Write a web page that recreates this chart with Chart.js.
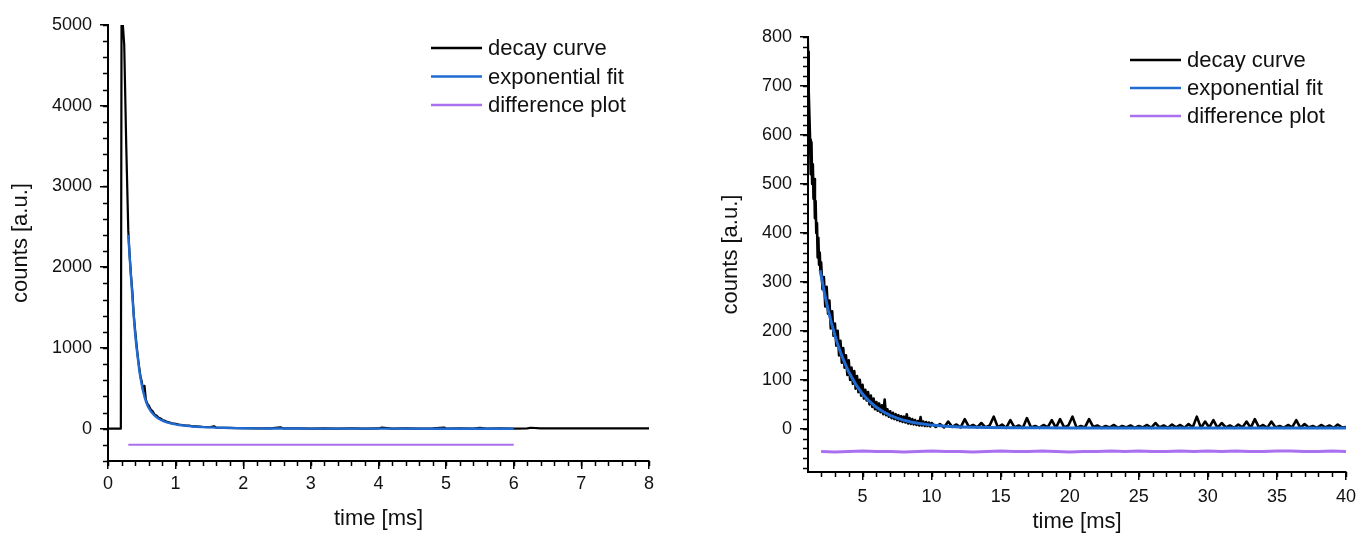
<!DOCTYPE html>
<html><head><meta charset="utf-8">
<script src="https://cdn.jsdelivr.net/npm/chart.js@4.4.1/dist/chart.umd.min.js"></script>
<style>
html,body{margin:0;padding:0;background:#fff;}
#wrap{position:relative;width:1362px;height:543px;overflow:hidden;background:#fff;}
#c1{position:absolute;left:0;top:0;}
#c2{position:absolute;left:680px;top:0;}
</style></head><body>
<div id="wrap"><canvas id="c1" width="680" height="543"></canvas><canvas id="c2" width="682" height="543"></canvas></div>
<script>
const seriesLabels = ['decay curve', 'exponential fit', 'difference plot'];
const xTitle = 'time [ms]';
const yTitle = 'counts [a.u.]';

// ---------- LEFT PANEL ----------
const leftDecayT = [0, 0.19, 0.2, 0.22, 0.24, 0.27, 0.3, 0.32, 0.34, 0.36, 0.38, 0.4, 0.42, 0.44, 0.46, 0.48, 0.5, 0.52, 0.54, 0.56, 0.58, 0.6, 0.63, 0.66, 0.69, 0.72, 0.75, 0.78, 0.81, 0.84, 0.87, 0.9, 0.95, 1.0, 1.05, 1.1, 1.15, 1.2, 1.25, 1.3, 1.4, 1.5, 1.57, 1.6, 1.7, 1.8, 1.9, 2.0, 2.2, 2.4, 2.55, 2.6, 2.8, 3.0, 3.2, 3.4, 3.6, 3.8, 4.0, 4.05, 4.2, 4.4, 4.6, 4.8, 4.97, 5.0, 5.2, 5.4, 5.5, 5.6, 5.8, 6.0, 6.2, 6.25, 6.4, 6.6, 6.8, 7.0, 7.2, 7.4, 7.6, 7.8, 8.0];
const leftDecayY = [0, 0, 5000, 5000, 4750, 3500, 2450, 2150, 1900, 1700, 1420, 1230, 1060, 900, 770, 650, 580, 470, 530, 360, 315, 290, 240, 215, 175, 160, 135, 125, 105, 100, 85, 80, 68, 60, 52, 45, 40, 38, 30, 28, 22, 18, 30, 14, 12, 10, 8, 7, 5, 4, 18, 3, 3, 2, 4, 2, 3, 2, 3, 15, 2, 3, 2, 3, 14, 2, 3, 2, 12, 2, 3, 2, 4, 12, 3, 5, 3, 4, 3, 5, 3, 4, 3];
const leftFitT = [0.3, 0.32, 0.34, 0.36, 0.38, 0.4, 0.42, 0.44, 0.46, 0.48, 0.5, 0.52, 0.54, 0.56, 0.58, 0.6, 0.63, 0.66, 0.69, 0.72, 0.75, 0.78, 0.81, 0.84, 0.87, 0.9, 0.95, 1.0, 1.05, 1.1, 1.15, 1.2, 1.25, 1.3, 1.4, 1.5, 1.6, 1.7, 1.8, 1.9, 2.0, 2.2, 2.4, 2.6, 2.8, 3.0, 3.5, 4.0, 5.0, 6.0];
const leftFitY = [2400, 2130, 1880, 1640, 1400, 1190, 1020, 880, 740, 630, 540, 460, 395, 340, 295, 260, 220, 188, 162, 142, 124, 110, 98, 88, 79, 72, 61, 53, 46, 41, 36, 32, 28, 25, 20, 16, 13, 11, 9, 7, 6, 4, 3, 2, 2, 1, 1, 1, 0, 0];
const leftDiffT = [0.3, 1, 2, 3, 4, 5, 6];
const leftDiffY = [-200, -200, -199, -200, -200, -199, -200];
const leftXTicks = [0, 1, 2, 3, 4, 5, 6, 7, 8];
const leftYTicks = [0, 1000, 2000, 3000, 4000, 5000];

// ---------- RIGHT PANEL ----------
const rightDecayT = [1.0, 1.05, 1.1, 1.15, 1.2, 1.25, 1.3, 1.35, 1.4, 1.45, 1.5, 1.55, 1.6, 1.65, 1.7, 1.75, 1.8, 1.85, 1.9, 1.95,
  2.0, 2.1, 2.2, 2.3, 2.4, 2.5, 2.6, 2.7, 2.8, 2.9, 3.0, 3.1, 3.2, 3.3, 3.4, 3.5, 3.6, 3.7, 3.8, 3.9,
  4.0, 4.1, 4.2, 4.3, 4.4, 4.5, 4.6, 4.7, 4.8, 4.9, 5.0, 5.1, 5.2, 5.3, 5.4, 5.5, 5.6, 5.7, 5.8, 5.9,
  6.0, 6.1, 6.2, 6.3, 6.4, 6.5, 6.6, 6.7, 6.8, 6.9, 7.0, 7.1, 7.2, 7.3, 7.4, 7.5, 7.6, 7.7, 7.8, 7.9,
  8.0, 8.1, 8.2, 8.3, 8.4, 8.5, 8.6, 8.7, 8.8, 8.9, 9.0, 9.1, 9.2, 9.3, 9.4, 9.5, 9.6, 9.7, 9.8, 9.9,
  10, 10.3, 10.6, 10.9, 11.2, 11.5, 11.8, 12.1, 12.4, 12.7, 13, 13.3, 13.6, 13.9, 14.2, 14.5, 14.8, 15.1, 15.4, 15.7,
  16, 16.3, 16.6, 16.9, 17.2, 17.5, 17.8, 18.1, 18.4, 18.7, 19, 19.3, 19.6, 19.9, 20.2, 20.5, 20.8, 21.1, 21.4, 21.7,
  22, 22.3, 22.6, 22.9, 23.2, 23.5, 23.8, 24.1, 24.4, 24.7, 25, 25.3, 25.6, 25.9, 26.2, 26.5, 26.8, 27.1, 27.4, 27.7,
  28, 28.3, 28.6, 28.9, 29.2, 29.5, 29.8, 30.1, 30.4, 30.7, 31, 31.3, 31.6, 31.9, 32.2, 32.5, 32.8, 33.1, 33.4, 33.7,
  34, 34.3, 34.6, 34.9, 35.2, 35.5, 35.8, 36.1, 36.4, 36.7, 37, 37.3, 37.6, 37.9, 38.2, 38.5, 38.8, 39.1, 39.4, 39.7, 40];
const rightDecayY = [840, 770, 690, 640, 590, 520, 585, 500, 540, 470, 510, 430, 465, 400, 420, 350, 390, 335, 360, 320,
  340, 285, 310, 250, 290, 235, 262, 205, 240, 190, 215, 170, 200, 150, 180, 135, 165, 125, 150, 110,
  140, 100, 125, 92, 118, 82, 108, 75, 100, 68, 90, 62, 80, 58, 75, 50, 68, 45, 62, 40,
  55, 37, 52, 34, 48, 30, 60, 28, 40, 25, 36, 22, 33, 20, 30, 18, 28, 16, 26, 14,
  25, 13, 30, 11, 22, 10, 20, 9, 18, 8, 16, 7, 24, 7, 15, 6, 14, 6, 13, 5,
  12, 4, 10, 3, 15, 4, 9, 3, 20, 4, 8, 3, 12, 3, 7, 25, 3, 9, 2, 18,
  3, 7, 2, 22, 3, 6, 2, 8, 3, 18, 2, 20, 3, 7, 25, 2, 6, 3, 20, 4,
  7, 2, 6, 3, 8, 2, 6, 3, 7, 2, 6, 3, 8, 2, 12, 3, 7, 2, 9, 3,
  8, 2, 10, 3, 25, 2, 15, 3, 18, 2, 12, 3, 7, 2, 9, 3, 15, 2, 20, 3,
  8, 2, 15, 3, 6, 2, 8, 3, 18, 2, 10, 3, 6, 2, 8, 3, 7, 2, 9, 3, 4];
const rightFitT = [1.93, 2, 2.25, 2.5, 2.75, 3, 3.25, 3.5, 3.75, 4, 4.5, 5, 5.5, 6, 6.5, 7, 7.5, 8, 8.5, 9, 10, 11, 12, 13, 14, 16, 18, 20, 25, 30, 35, 40];
const rightFitY = [324, 313, 276, 244, 216, 191, 168, 149, 132, 116, 91, 71, 56, 44, 35, 27.5, 22, 17.5, 14, 11.4, 7.7, 5.5, 4.1, 3.3, 2.8, 2.3, 2.1, 2, 2, 2, 2, 2];
const rightDiffT = [2, 3, 4, 5, 6, 7, 8, 9, 10, 11, 12, 13, 14, 15, 16, 17, 18, 19, 20, 21, 22, 23, 24, 25, 26, 27, 28, 29, 30, 31, 32, 33, 34, 35, 36, 37, 38, 39, 40];
const rightDiffY = [-46, -47, -46, -45, -46, -46, -47, -46, -45, -46, -46, -47, -46, -45, -46, -46, -45, -46, -47, -46, -46, -45, -46, -45, -46, -46, -45, -46, -45, -46, -45, -46, -46, -45, -45, -46, -46, -45, -46];
const rightXTicks = [5, 10, 15, 20, 25, 30, 35, 40];
const rightYTicks = [0, 100, 200, 300, 400, 500, 600, 700, 800];

// ---------- styling ----------
const COLORS = ['#000000', '#1f6bd1', '#a970f0'];
const FONT = '"Liberation Sans", Arial, sans-serif';
const TXT = '#111111';

function pts(ts, ys) { return ts.map((t, i) => ({x: t, y: ys[i]})); }

function minorPlugin(id, m) {
  return {
    id: id,
    afterDraw(chart) {
      const ctx = chart.ctx, xs = chart.scales.x, ys = chart.scales.y, a = chart.chartArea;
      ctx.save();
      ctx.strokeStyle = '#000'; ctx.lineWidth = 1.5;
      ctx.beginPath();
      const nx = Math.round((m.xEnd - m.xStart) / m.xStep);
      for (let i = 0; i <= nx; i++) {
        const v = m.xStart + i * m.xStep;
        const px = Math.round(xs.getPixelForValue(v)) + 0.5;
        ctx.moveTo(px, a.bottom); ctx.lineTo(px, a.bottom + m.len);
      }
      const ny = Math.round((m.yEnd - m.yStart) / m.yStep);
      for (let i = 0; i <= ny; i++) {
        const v = m.yStart + i * m.yStep;
        const py = Math.round(ys.getPixelForValue(v)) + 0.5;
        ctx.moveTo(a.left - m.len, py); ctx.lineTo(a.left, py);
      }
      ctx.stroke();
      ctx.restore();
    }
  };
}

function legendPlugin(id, L) {
  return {
    id: id,
    afterDraw(chart) {
      const ctx = chart.ctx;
      ctx.save();
      ctx.font = '22px ' + FONT;
      ctx.textBaseline = 'middle';
      ctx.textAlign = 'left';
      seriesLabels.forEach((lab, i) => {
        const y = L.y0 + i * L.dy;
        ctx.strokeStyle = COLORS[i]; ctx.lineWidth = 2.5;
        ctx.beginPath(); ctx.moveTo(L.x0, y); ctx.lineTo(L.x0 + L.len, y); ctx.stroke();
        ctx.fillStyle = TXT;
        ctx.fillText(lab, L.x0 + L.len + L.gap, y + 1);
      });
      ctx.restore();
    }
  };
}

function makeChart(canvas, cfg) {
  return new Chart(canvas, {
    type: 'line',
    data: {
      datasets: [
        {label: seriesLabels[0], data: pts(cfg.decayT, cfg.decayY), borderColor: COLORS[0], borderWidth: cfg.bw[0], order: 2},
        {label: seriesLabels[1], data: pts(cfg.fitT, cfg.fitY), borderColor: COLORS[1], borderWidth: cfg.bw[1], order: 1},
        {label: seriesLabels[2], data: pts(cfg.diffT, cfg.diffY), borderColor: COLORS[2], borderWidth: cfg.bw[2], order: 0}
      ].map(d => Object.assign(d, {pointRadius: 0, tension: 0, fill: false, borderJoinStyle: 'round'}))
    },
    options: {
      responsive: false,
      animation: false,
      devicePixelRatio: 1,
      layout: {padding: cfg.pad},
      plugins: {legend: {display: false}, tooltip: {enabled: false}},
      scales: {
        x: {
          type: 'linear', min: cfg.xMin, max: cfg.xMax,
          afterBuildTicks: s => { s.ticks = cfg.xTicks.map(v => ({value: v})); },
          afterFit: s => { s.height = cfg.xH; },
          grid: {drawOnChartArea: false, drawTicks: true, tickLength: 8, color: '#000', lineWidth: 1.5},
          border: {display: true, color: '#000', width: 2},
          ticks: {autoSkip: false, maxRotation: 0, padding: cfg.xPad, color: TXT, font: {family: FONT, size: 18}, callback: v => String(v)},
          title: {display: true, text: xTitle, color: TXT, font: {family: FONT, size: 22}, padding: {top: 0, bottom: cfg.xTitlePad}}
        },
        y: {
          type: 'linear', min: cfg.yMin, max: cfg.yMax,
          afterBuildTicks: s => { s.ticks = cfg.yTicks.map(v => ({value: v})); },
          afterFit: s => { s.width = cfg.yW; },
          grid: {drawOnChartArea: false, drawTicks: true, tickLength: 8, color: '#000', lineWidth: 1.5},
          border: {display: true, color: '#000', width: 2},
          ticks: {autoSkip: false, padding: 8, color: TXT, font: {family: FONT, size: 18}, callback: v => String(v)},
          title: {display: true, text: yTitle, color: TXT, font: {family: FONT, size: 22}, padding: {top: cfg.yTitlePad, bottom: 0}}
        }
      }
    },
    plugins: [minorPlugin(cfg.id + 'm', cfg.minor), legendPlugin(cfg.id + 'l', cfg.legend)]
  });
}

makeChart(document.getElementById('c1'), {
  id: 'L',
  decayT: leftDecayT, decayY: leftDecayY, fitT: leftFitT, fitY: leftFitY, diffT: leftDiffT, diffY: leftDiffY,
  bw: [2.2, 2.4, 2],
  xMin: 0, xMax: 8, yMin: -400, yMax: 5000,
  xTicks: leftXTicks, yTicks: leftYTicks,
  pad: {left: 0, right: 31, top: 25, bottom: 0},
  xH: 82, yW: 108, xPad: 4, xTitlePad: 11, yTitlePad: 8,
  minor: {xStart: 0, xEnd: 8, xStep: 0.2, yStart: -400, yEnd: 5000, yStep: 200, len: 5},
  legend: {x0: 431, y0: 48, dy: 28.5, len: 51, gap: 6}
});

makeChart(document.getElementById('c2'), {
  id: 'R',
  decayT: rightDecayT, decayY: rightDecayY, fitT: rightFitT, fitY: rightFitY, diffT: rightDiffT, diffY: rightDiffY,
  bw: [2.6, 3, 3],
  xMin: 1.05, xMax: 40, yMin: -88, yMax: 800,
  xTicks: rightXTicks, yTicks: rightYTicks,
  pad: {left: 0, right: 15, top: 37, bottom: 0},
  xH: 71, yW: 128, xPad: 6, xTitlePad: 8, yTitlePad: 38,
  minor: {xStart: 2, xEnd: 40, xStep: 1, yStart: -80, yEnd: 800, yStep: 20, len: 5},
  legend: {x0: 450, y0: 60, dy: 28, len: 51, gap: 6}
});
</script>
</body></html>
